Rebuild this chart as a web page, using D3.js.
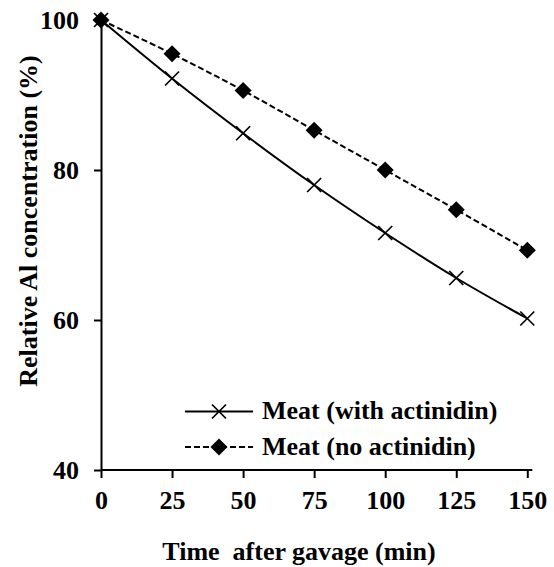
<!DOCTYPE html>
<html>
<head>
<meta charset="utf-8">
<script src="https://cdn.jsdelivr.net/npm/d3@7"></script>
<style>
  body { margin:0; background:#fff; }
  text { font-family: "Liberation Serif", "Times New Roman", serif; font-weight: bold; fill:#000; }
</style>
</head>
<body>
<div class="canvas"></div>
<script>
//DATA
var times = [0, 25, 50, 75, 100, 125, 150];
var withActinidin = [100, 92.2, 84.9, 78.0, 71.6, 65.6, 60.2];
var noActinidin = [100, 95.5, 90.6, 85.3, 80.0, 74.7, 69.3];
var xTicks = [0, 25, 50, 75, 100, 125, 150];
var yTicks = [40, 60, 80, 100];
var seriesNames = ['Meat (with actinidin)', 'Meat (no actinidin)'];

//VIZ DIMENSIONS
var w = 554, h = 567;
var margin = { left:101, top:20, right:26.7, bottom:97 };
var width = w - margin.left - margin.right;
var height = h - margin.top - margin.bottom;

const svg = d3.select('.canvas').append('svg')
    .attr('width', w)
    .attr('height', h);

const g = svg.append('g')
    .attr('transform', 'translate(' + margin.left + ',' + margin.top + ')');

//SCALES
var x = d3.scaleLinear().domain([0, 150]).range([0, width]);
var y = d3.scaleLinear().domain([40, 100]).range([height, 0]);

//AXES
var xAxis = g.append('g')
    .attr('transform', 'translate(0,' + height + ')')
    .call(d3.axisBottom(x).tickValues(xTicks).tickSize(8).tickSizeOuter(0).tickPadding(13));
xAxis.select('.domain').attr('d', 'M0,0H' + (width + 5));

var yAxis = g.append('g')
    .call(d3.axisLeft(y).tickValues(yTicks).tickSize(7).tickSizeOuter(0).tickPadding(15));

g.selectAll('.tick line, .domain').attr('stroke', '#000').attr('stroke-width', 2);
g.selectAll('.tick text').style('font-size', '26px').style('font-family', '"Liberation Serif", serif').style('font-weight', 'bold');

//LINES
var line = d3.line()
    .x((d, i) => x(times[i]))
    .y(d => y(d))
    .curve(d3.curveCatmullRom.alpha(0.5));

g.append('path')
    .datum(noActinidin)
    .attr('d', line)
    .attr('fill', 'none')
    .attr('stroke', '#000')
    .attr('stroke-width', 2)
    .attr('stroke-dasharray', '6,3');

g.append('path')
    .datum(withActinidin)
    .attr('d', line)
    .attr('fill', 'none')
    .attr('stroke', '#000')
    .attr('stroke-width', 2);

//MARKERS
function cross(sel, s) {
    sel.append('path')
        .attr('d', 'M' + (-s) + ',' + (-s) + 'L' + s + ',' + s + 'M' + (-s) + ',' + s + 'L' + s + ',' + (-s))
        .attr('stroke', '#000')
        .attr('stroke-width', 1.7)
        .attr('fill', 'none');
}
function diamond(sel, s) {
    sel.append('path')
        .attr('d', 'M0,' + (-s) + 'L' + s + ',0L0,' + s + 'L' + (-s) + ',0Z')
        .attr('fill', '#000');
}

noActinidin.forEach((v, i) => {
    g.append('g').attr('transform', 'translate(' + x(times[i]) + ',' + y(v) + ')').call(diamond, 8.5);
});
withActinidin.forEach((v, i) => {
    g.append('g').attr('transform', 'translate(' + x(times[i]) + ',' + y(v) + ')').call(cross, 7);
});

//LEGEND
var leg = svg.append('g');
var legY = [411.5, 447];
seriesNames.forEach((name, i) => {
    leg.append('line')
        .attr('x1', 185).attr('x2', 253)
        .attr('y1', legY[i]).attr('y2', legY[i])
        .attr('stroke', '#000').attr('stroke-width', 2)
        .attr('stroke-dasharray', i === 1 ? '6,3' : null);
    var m = leg.append('g').attr('transform', 'translate(219,' + legY[i] + ')');
    if (i === 0) cross(m, 7); else diamond(m, 8.5);
    leg.append('text')
        .attr('x', 262)
        .attr('y', legY[i] + 7.5)
        .style('font-size', '26px')
        .text(name);
});

//AXIS TITLES
svg.append('text')
    .attr('x', 299)
    .attr('y', 560)
    .attr('text-anchor', 'middle')
    .style('font-size', '26px')
    .style('white-space', 'pre')
    .text('Time  after gavage (min)');

svg.append('text')
    .attr('transform', 'translate(37,221) rotate(-90)')
    .attr('text-anchor', 'middle')
    .style('font-size', '26px')
    .text('Relative Al concentration (%)');
</script>
</body>
</html>
